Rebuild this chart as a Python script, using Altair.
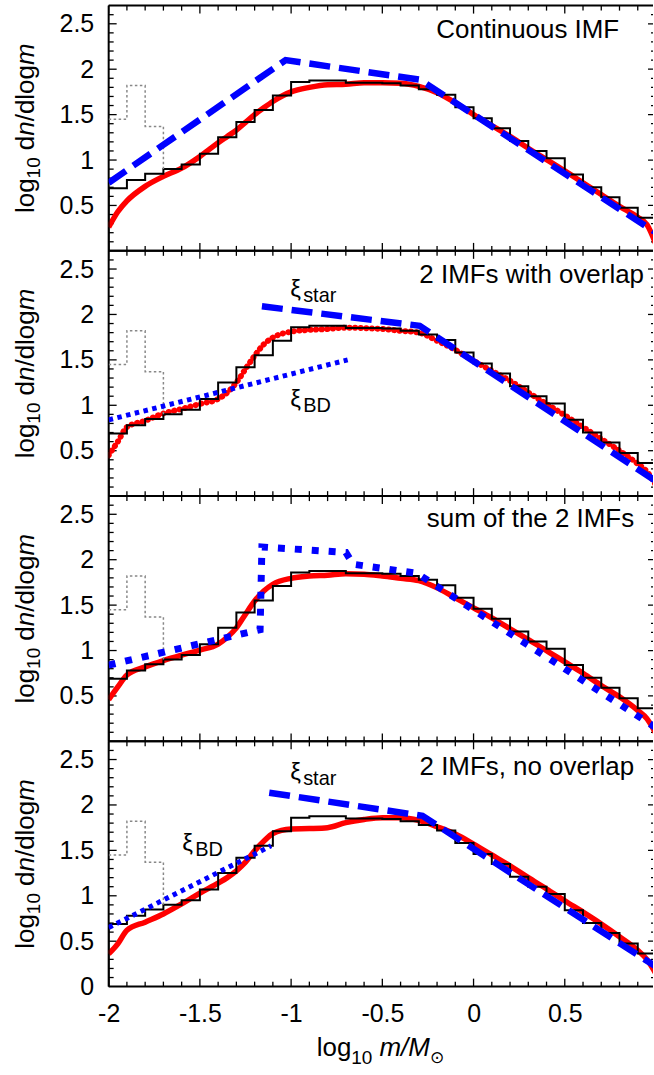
import altair as alt
import pandas as pd

FONT = "Liberation Sans"
W, H = 546, 246
XMAX = 0.9836  # right edge of the visible plot area (the figure is cropped there)

# ---------------- data ----------------
hist_edges = [-2.0, -1.9, -1.8, -1.7, -1.6, -1.5, -1.4, -1.3, -1.2, -1.1, -1.0,
              -0.9, -0.8, -0.7, -0.6, -0.5, -0.4, -0.3, -0.2, -0.1, 0.0,
              0.1, 0.2, 0.3, 0.4, 0.5, 0.6, 0.7, 0.8, 0.9, 1.0]
hist_vals = [0.69, 0.78, 0.85, 0.90, 0.95, 1.07, 1.25, 1.42, 1.55, 1.71,
             1.86, 1.875, 1.875, 1.85, 1.85, 1.845, 1.82, 1.78, 1.72, 1.58,
             1.46, 1.35, 1.21, 1.10, 1.02, 0.84, 0.70, 0.59, 0.475, 0.365]

gray_edges = [-2.0, -1.9, -1.8, -1.7]
gray_vals = [1.45, 1.82, 1.37, 0.90]

red_x = [-2.0, -1.95, -1.9, -1.8, -1.7, -1.6, -1.5, -1.4, -1.35, -1.3, -1.25, -1.2,
         -1.15, -1.1, -1.0, -0.9, -0.8, -0.7, -0.6, -0.5, -0.4, -0.3, -0.2, -0.1,
         0.0, 0.1, 0.2, 0.3, 0.4, 0.5, 0.6, 0.7, 0.8, 0.9, 0.95, 1.0]
red1_y = [0.26, 0.43, 0.55, 0.71, 0.82, 0.91, 1.04, 1.19, 1.26, 1.33, 1.415, 1.50,
          1.575, 1.645, 1.75, 1.80, 1.83, 1.835, 1.85, 1.85, 1.845, 1.81, 1.74, 1.63,
          1.50, 1.38, 1.26, 1.13, 1.005, 0.88, 0.75, 0.62, 0.49, 0.37, 0.29, 0.07]
red2_y = [0.45, 0.60, 0.76, 0.83, 0.91, 0.96, 1.015, 1.07, 1.14, 1.25, 1.40, 1.545,
          1.67, 1.745, 1.81, 1.83, 1.84, 1.855, 1.85, 1.84, 1.82, 1.80, 1.71, 1.61,
          1.49, 1.38, 1.27, 1.14, 1.015, 0.89, 0.76, 0.63, 0.50, 0.355, 0.27, 0.12]
red3_y = [0.46, 0.60, 0.73, 0.82, 0.89, 0.95, 1.005, 1.07, 1.146, 1.25, 1.40, 1.545,
          1.655, 1.73, 1.795, 1.82, 1.83, 1.845, 1.84, 1.82, 1.795, 1.77, 1.69, 1.58,
          1.47, 1.36, 1.24, 1.12, 1.00, 0.875, 0.75, 0.615, 0.49, 0.34, 0.25, 0.085]
red4_y = [0.36, 0.47, 0.62, 0.71, 0.80, 0.91, 1.03, 1.14, 1.20, 1.275, 1.37, 1.495,
          1.60, 1.685, 1.735, 1.74, 1.75, 1.805, 1.84, 1.86, 1.86, 1.83, 1.76, 1.68,
          1.57, 1.45, 1.33, 1.20, 1.075, 0.945, 0.82, 0.69, 0.55, 0.40, 0.30, 0.14]

cont_x = [-2.0, -1.03, -0.295, 1.0]
cont_y = [0.75, 2.10, 1.885, 0.20]
star2_x = [-1.16, -0.295, 1.0]
star2_y = [2.09, 1.875, 0.165]
bd2_x = [-2.0, -0.69]
bd2_y = [0.84, 1.50]
sum3_x = [-2.0, -1.17, -1.16, -0.70, -0.66, -0.31, 1.0]
sum3_y = [0.84, 1.23, 2.14, 2.08, 1.95, 1.85, 0.15]
star4_x = [-1.12, -0.28, 1.0]
star4_y = [2.135, 1.88, 0.22]
bd4_x = [-2.0, -1.11]
bd4_y = [0.65, 1.55]

titles = ["Continuous IMF", "2 IMFs with overlap", "sum of the 2 IMFs", "2 IMFs, no overlap"]
title_x = [0.798, 0.934, 0.880, 0.880]
title_y = [2.345, 2.35, 2.36, 2.335]

x_labels = [-2.0, -1.5, -1.0, -0.5, 0.0, 0.5]
y_labels_upper = [0.5, 1.0, 1.5, 2.0, 2.5]
y_labels_lower = [0.0, 0.5, 1.0, 1.5, 2.0, 2.5]
x_major = [-2.0, -1.5, -1.0, -0.5, 0.0, 0.5]
x_minor = [-1.9, -1.8, -1.7, -1.6, -1.4, -1.3, -1.2, -1.1, -0.9, -0.8, -0.7, -0.6,
           -0.4, -0.3, -0.2, -0.1, 0.1, 0.2, 0.3, 0.4, 0.6, 0.7, 0.8, 0.9]
y_major = [0.5, 1.0, 1.5, 2.0, 2.5]
y_minor = [0.1, 0.2, 0.3, 0.4, 0.6, 0.7, 0.8, 0.9, 1.1, 1.2, 1.3, 1.4, 1.6, 1.7,
           1.8, 1.9, 2.1, 2.2, 2.3, 2.4, 2.6]

XS = alt.Scale(domain=[-2, XMAX], nice=False, zero=False)
YS = alt.Scale(domain=[0, 2.7], nice=False, zero=False)

RED = "#ff0000"
BLUE = "#0000ff"


def build_panel(red_y, red_dotted, blue_specs, title_i, xi_specs, show_x):
    if show_x:
        xa = alt.Axis(values=x_labels, labelExpr="'' + datum.value", ticks=False, tickSize=0,
                      domain=False, grid=False, labelFontSize=25, labelFont=FONT,
                      labelColor="black", labelPadding=15, labelFlush=False,
                      labelOverlap=False, title=None)
        ylabs = y_labels_lower
    else:
        xa = None
        ylabs = y_labels_upper
    ya = alt.Axis(values=ylabs, labelExpr="'' + datum.value", ticks=False, tickSize=0,
                  domain=False, grid=False, labelFontSize=25, labelFont=FONT,
                  labelColor="black", labelPadding=15, labelFlush=False,
                  labelOverlap=False, title=None)

    def X(f):
        return alt.X(f, type="quantitative", scale=XS, axis=xa)

    def Y(f):
        return alt.Y(f, type="quantitative", scale=YS, axis=ya)

    layers = []
    one = pd.DataFrame({"k": [0]})
    # frame: left, top, bottom (right edge lies just outside the cropped figure)
    layers.append(alt.Chart(one).mark_rule(color="black", strokeWidth=2).encode(
        x=alt.value(0), y=alt.value(0), y2=alt.value(H)))
    layers.append(alt.Chart(one).mark_rule(color="black", strokeWidth=2).encode(
        x=alt.value(0), x2=alt.value(W), y=alt.value(0)))
    layers.append(alt.Chart(one).mark_rule(color="black", strokeWidth=2).encode(
        x=alt.value(0), x2=alt.value(W), y=alt.value(H)))
    # inward ticks on four sides
    for vals, ln in ((x_major, 8), (x_minor, 5)):
        d = alt.Chart(pd.DataFrame({"v": vals}))
        layers.append(d.mark_rule(color="black", strokeWidth=1.3).encode(
            x=X("v"), y=alt.value(H), y2=alt.value(H - ln)))
        layers.append(d.mark_rule(color="black", strokeWidth=1.3).encode(
            x=X("v"), y=alt.value(0), y2=alt.value(ln)))
    for vals, ln in ((y_major, 8), (y_minor, 5)):
        d = alt.Chart(pd.DataFrame({"v": vals}))
        layers.append(d.mark_rule(color="black", strokeWidth=1.3).encode(
            y=Y("v"), x=alt.value(0), x2=alt.value(ln)))
        layers.append(d.mark_rule(color="black", strokeWidth=1.3, clip=True).encode(
            y=Y("v"), x=alt.value(W + 3), x2=alt.value(W + 3 - ln)))

    def line(xv, yv, **kw):
        df = pd.DataFrame({"x": xv, "y": yv, "o": list(range(len(xv)))})
        return alt.Chart(df).mark_line(clip=True, **kw).encode(
            x=X("x"), y=Y("y"), order="o:Q")

    # red model curve
    if red_dotted:
        layers.append(line(red_x, red_y, color=RED, strokeWidth=6, strokeDash=[0.1, 5.5],
                           strokeCap="round", interpolate="monotone"))
    else:
        layers.append(line(red_x, red_y, color=RED, strokeWidth=5.5, interpolate="monotone"))

    # black histogram
    hx = [hist_edges[0]] + hist_edges
    hy = [0.0] + hist_vals + [hist_vals[-1]]
    layers.append(line(hx, hy, color="black", strokeWidth=2, interpolate="step-after"))
    # grey dotted histogram
    layers.append(line(gray_edges, gray_vals, color="#888888", strokeWidth=1.5,
                       strokeDash=[2.5, 2.5], interpolate="step-after"))

    # blue model lines
    for bx, by, style in blue_specs:
        if style == "dash":
            layers.append(line(bx, by, color=BLUE, strokeWidth=6.5, strokeDash=[21, 9]))
        elif style == "dot":
            layers.append(line(bx, by, color=BLUE, strokeWidth=5, strokeDash=[4.5, 4.5]))
        else:
            layers.append(line(bx, by, color=BLUE, strokeWidth=7, strokeDash=[7, 10]))

    # panel title
    tdf = pd.DataFrame({"x": [title_x[title_i]], "y": [title_y[title_i]], "t": [titles[title_i]]})
    layers.append(alt.Chart(tdf).mark_text(align="right", baseline="alphabetic", fontSize=26,
                                           font=FONT, color="black").encode(
        x=X("x"), y=Y("y"), text="t:N"))

    # xi labels
    for lx, ly, sub in xi_specs:
        ldf = pd.DataFrame({"x": [lx], "y": [ly], "t": ["\u03be"], "s": [sub]})
        c = alt.Chart(ldf)
        layers.append(c.mark_text(align="left", baseline="alphabetic", fontSize=24, font=FONT,
                                  color="black").encode(x=X("x"), y=Y("y"), text="t:N"))
        layers.append(c.mark_text(align="left", baseline="alphabetic", fontSize=20, font=FONT,
                                  color="black", dx=13, dy=5).encode(x=X("x"), y=Y("y"), text="s:N"))

    # y-axis title (rotated, composed of pieces)
    ypieces = [("log", "normal", 26, 0.0, 0), ("10", "normal", 19, 34.7, 6),
               ("d", "normal", 26, 63.0, 0), ("n", "italic", 26, 77.5, 0),
               ("/dlog", "normal", 26, 92.0, 0), ("m", "italic", 26, 148.4, 0)]
    for txt, style, size, off, sub in ypieces:
        pdf = pd.DataFrame({"t": [txt]})
        layers.append(alt.Chart(pdf).mark_text(align="left", baseline="alphabetic", angle=270,
                                               fontSize=size, font=FONT, fontStyle=style,
                                               color="black", dx=off, dy=sub).encode(
            x=alt.value(-75), y=alt.value(H / 2 + 85), text="t:N"))

    if show_x:
        xpieces = [("log", "normal", 26, 0.0, 0, FONT), ("10", "normal", 19, 34.7, 8, FONT),
                   ("m/M", "italic", 26, 63.0, 0, FONT), ("\u2299", "normal", 17, 113.6, 7, "DejaVu Sans")]
        for txt, style, size, off, sub, fnt in xpieces:
            pdf = pd.DataFrame({"t": [txt]})
            layers.append(alt.Chart(pdf).mark_text(align="left", baseline="alphabetic",
                                                   fontSize=size, font=fnt, fontStyle=style,
                                                   color="black", dx=off, dy=sub).encode(
                x=alt.value(208.7), y=alt.value(H + 70), text="t:N"))

    return alt.layer(*layers).properties(width=W, height=H)


p1 = build_panel(red1_y, False, [(cont_x, cont_y, "dash")], 0, [], False)
p2 = build_panel(red2_y, True, [(star2_x, star2_y, "dash"), (bd2_x, bd2_y, "dot")], 1,
                 [(-1.005, 2.193, "star"), (-1.005, 0.976, "BD")], False)
p3 = build_panel(red3_y, False, [(sum3_x, sum3_y, "bigdot")], 2, [], False)
p4 = build_panel(red4_y, False, [(star4_x, star4_y, "dash"), (bd4_x, bd4_y, "dot")], 3,
                 [(-1.005, 2.28, "star"), (-1.596, 1.49, "BD")], True)

chart = alt.vconcat(p1, p2, p3, p4, spacing=0, bounds="flush").properties(
    padding={"left": 12, "top": 3, "right": 0, "bottom": 0}
).configure_view(stroke=None)

chart.save("out.html", embed_options={"renderer": "svg", "actions": False})
